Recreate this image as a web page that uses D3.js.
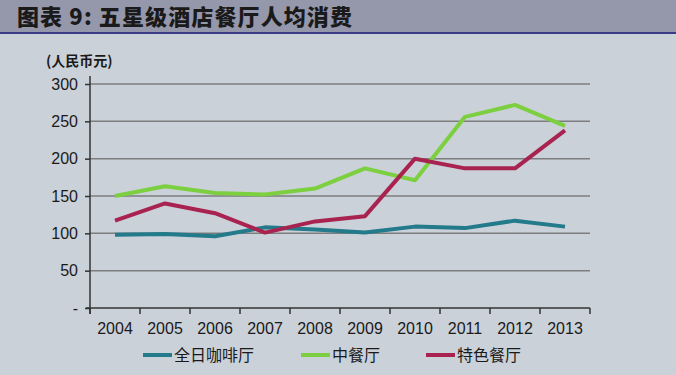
<!DOCTYPE html>
<html>
<head>
<meta charset="utf-8">
<script src="https://cdn.jsdelivr.net/npm/d3@7"></script>
<style>
  body { margin: 0; background: #cbd1d9; }
  svg { display: block; }
</style>
</head>
<body>
<div id="chart"></div>
<script>
// years and per-head spend (RMB)
const years = ["2004", "2005", "2006", "2007", "2008", "2009", "2010", "2011", "2012", "2013"];
const coffeeShop = [98, 99, 96, 108, 105, 101, 109, 107, 117, 109];
const chinese = [150, 163, 154, 152, 160, 187, 171, 256, 272, 244];
const specialty = [117, 140, 127, 101, 116, 123, 200, 187, 187, 238];
const yTicks = [0, 50, 100, 150, 200, 250, 300];

const seriesNames = ["全日咖啡厅", "中餐厅", "特色餐厅"];
const seriesColors = ["#237a8a", "#7ccf3f", "#a8234f"];
const allSeries = [coffeeShop, chinese, specialty];

const width = 676, height = 375;

const svg = d3.select("#chart")
    .append("svg")
    .attr("width", width)
    .attr("height", height);

// background + title bar
svg.append("rect").attr("width", width).attr("height", height).attr("fill", "#cbd1d9");
svg.append("rect").attr("width", width).attr("height", 32).attr("fill", "#9597ab");
svg.append("rect").attr("y", 32).attr("width", width).attr("height", 2).attr("fill", "#3b3a86");

svg.append("text")
    .attr("x", 17).attr("y", 25)
    .attr("font-family", "'Noto Sans CJK SC', sans-serif")
    .attr("font-weight", "900")
    .attr("font-size", 22)
    .attr("textLength", 335)
    .attr("lengthAdjust", "spacing")
    .attr("fill", "#1a1a1a")
    .text("图表 9: 五星级酒店餐厅人均消费");

svg.append("text")
    .attr("x", 46).attr("y", 66)
    .attr("font-family", "'Noto Sans CJK SC', sans-serif")
    .attr("font-weight", "bold")
    .attr("font-size", 14)
    .attr("fill", "#1a1a1a")
    .text("(人民币元)");

const x = d3.scaleBand().domain(years).range([90, 590]);
const y = d3.scaleLinear().domain([0, 300]).range([308, 84]);

// gridlines
svg.append("g")
    .selectAll("line")
    .data(yTicks.slice(1))
    .enter()
    .append("line")
    .attr("x1", 90).attr("x2", 590)
    .attr("y1", d => y(d)).attr("y2", d => y(d))
    .attr("stroke", "#7d7d7d")
    .attr("stroke-width", 1.5);

// y axis
const yAxis = svg.append("g")
    .attr("transform", "translate(90,0)")
    .call(d3.axisLeft(y).tickValues(yTicks).tickSize(5).tickPadding(7)
        .tickFormat(d => d === 0 ? "-" : d));
yAxis.select(".domain").attr("stroke", "#333").attr("stroke-width", 1.5)
    .attr("d", "M0,76V314");
yAxis.selectAll(".tick line").attr("stroke", "#333").attr("stroke-width", 1.5);
yAxis.selectAll("text")
    .attr("font-family", "'Liberation Sans', Arial, sans-serif")
    .attr("font-size", 16)
    .attr("fill", "#1a1a1a");

// x axis
const xAxis = svg.append("g")
    .attr("transform", "translate(0,308)");
xAxis.append("line")
    .attr("x1", 86).attr("x2", 590)
    .attr("stroke", "#333").attr("stroke-width", 1.5);
xAxis.selectAll("line.tk")
    .data(years.concat(["end"]))
    .enter()
    .append("line")
    .attr("class", "tk")
    .attr("x1", (d, i) => 90 + i * x.step())
    .attr("x2", (d, i) => 90 + i * x.step())
    .attr("y1", 0).attr("y2", 6)
    .attr("stroke", "#333").attr("stroke-width", 1.5);
xAxis.selectAll("text")
    .data(years)
    .enter()
    .append("text")
    .attr("x", d => x(d) + x.bandwidth() / 2)
    .attr("y", 26)
    .attr("text-anchor", "middle")
    .attr("font-family", "'Liberation Sans', Arial, sans-serif")
    .attr("font-size", 16)
    .attr("fill", "#1a1a1a")
    .text(d => d);

// lines
const line = d3.line()
    .x((d, i) => x(years[i]) + x.bandwidth() / 2)
    .y(d => y(d));

svg.append("g")
    .selectAll("path")
    .data(allSeries)
    .enter()
    .append("path")
    .attr("d", d => line(d))
    .attr("fill", "none")
    .attr("stroke", (d, i) => seriesColors[i])
    .attr("stroke-width", 4)
    .attr("stroke-linejoin", "round");

// legend
const legendX = [143, 301, 426];
const legend = svg.append("g");
seriesNames.forEach((name, i) => {
    legend.append("rect")
        .attr("x", legendX[i]).attr("y", 353)
        .attr("width", 29).attr("height", 4)
        .attr("fill", seriesColors[i]);
    legend.append("text")
        .attr("x", legendX[i] + 31).attr("y", 361)
        .attr("font-family", "'Noto Sans CJK SC', sans-serif")
        .attr("font-size", 16)
        .attr("fill", "#1a1a1a")
        .text(name);
});
</script>
</body>
</html>
